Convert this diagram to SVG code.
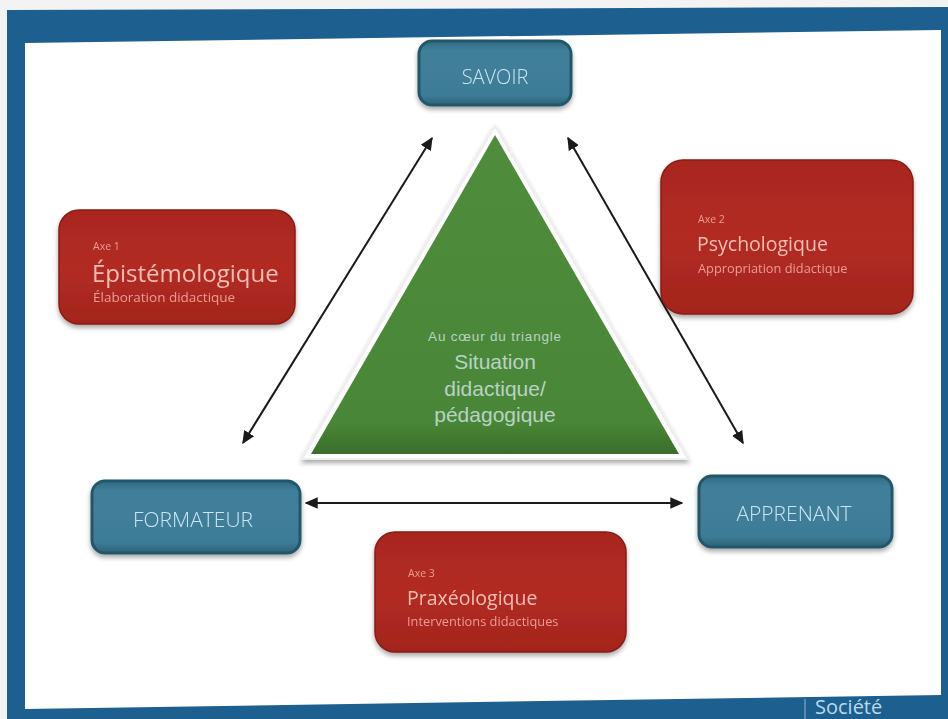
<svg xmlns="http://www.w3.org/2000/svg" width="948" height="719" viewBox="0 0 948 719">
  <defs>
    <style>
      .frame { fill: #1d5f8f; }
      .paper { fill: #ffffff; }
      .node-box { fill: url(#tealGrad); stroke: #24576a; stroke-width: 3; }
      .node-txt { font-family: "Open Sans", "Liberation Sans", sans-serif; font-weight: 300; fill: #c9e6f4; text-anchor: middle; }
      .axe-box { fill: url(#redGrad); stroke: #8a1c16; stroke-width: 1.5; }
      .axe-small { font-family: "Open Sans", "Liberation Sans", sans-serif; font-size: 10.5px; fill: #ee9c92; }
      .axe-title { font-family: "Open Sans", "Liberation Sans", sans-serif; fill: #f6bdb5; }
      .axe-sub { font-family: "Open Sans", "Liberation Sans", sans-serif; fill: #ee9c92; }
      .tri-txt { font-family: "Liberation Sans", "Open Sans", sans-serif; fill: #b8d3c6; text-anchor: middle; }
      .link { stroke: #1a1a1a; stroke-width: 2; fill: none; marker-start: url(#head); marker-end: url(#head); }
    </style>
    <linearGradient id="tealGrad" x1="0" y1="0" x2="0" y2="1">
      <stop offset="0" stop-color="#2f6b82"/>
      <stop offset="0.15" stop-color="#417f9a"/>
      <stop offset="0.85" stop-color="#3e7c97"/>
      <stop offset="1" stop-color="#2b6278"/>
    </linearGradient>
    <linearGradient id="redGrad" x1="0" y1="0" x2="0" y2="1">
      <stop offset="0" stop-color="#a9261f"/>
      <stop offset="0.5" stop-color="#b22c23"/>
      <stop offset="1" stop-color="#a3241d"/>
    </linearGradient>
    <linearGradient id="greenGrad" x1="0" y1="0" x2="0" y2="1">
      <stop offset="0" stop-color="#4f8c3c"/>
      <stop offset="0.9" stop-color="#4a8637"/>
      <stop offset="1" stop-color="#3a6e2b"/>
    </linearGradient>
    <filter id="shadow" x="-10%" y="-10%" width="120%" height="125%">
      <feGaussianBlur in="SourceAlpha" stdDeviation="2.5"/>
      <feOffset dx="0" dy="3" result="b"/>
      <feComponentTransfer><feFuncA type="linear" slope="0.35"/></feComponentTransfer>
      <feMerge><feMergeNode/><feMergeNode in="SourceGraphic"/></feMerge>
    </filter>
    <marker id="head" viewBox="0 0 10 10" refX="9" refY="5" markerWidth="13" markerHeight="13" markerUnits="userSpaceOnUse" orient="auto-start-reverse">
      <path d="M0,0.5 L10,5 L0,9.5 z" fill="#1a1a1a"/>
    </marker>
  </defs>

  <!-- page and blue frame -->
  <rect x="0" y="0" width="948" height="719" fill="#f3f3f3"/>
  <polygon class="frame" points="7,10 948,7 948,719 7,719"/>
  <polygon class="paper" points="25,43 941,30 941,695 25,709"/>
  <line x1="805" y1="699" x2="805" y2="719" stroke="#6f96b8" stroke-width="1.5"/>
  <text x="815" y="714" font-family="Open Sans, Liberation Sans, sans-serif" font-size="20" fill="#bcd9ee">Société</text>

  <!-- connectors -->
  <g id="connectors">
    <line class="link" x1="243" y1="443" x2="432" y2="138"/>
    <line class="link" x1="743" y1="443" x2="568" y2="138"/>
    <line class="link" x1="306" y1="503" x2="682" y2="503"/>
  </g>

  <!-- central triangle -->
  <g id="triangle">
    <polygon points="495,126 302,459 688,459" fill="#ffffff" stroke="#eeeeee" stroke-width="2" filter="url(#shadow)"/>
    <polygon points="495,135 311,454 679,454" fill="url(#greenGrad)"/>
    <text class="tri-txt" x="495" y="341" font-size="13.5" letter-spacing="0.8">Au cœur du triangle</text>
    <text class="tri-txt" x="495" y="369" font-size="21">Situation</text>
    <text class="tri-txt" x="495" y="396" font-size="21">didactique/</text>
    <text class="tri-txt" x="495" y="422" font-size="21">pédagogique</text>
  </g>

  <!-- poles -->
  <g id="savoir" filter="url(#shadow)">
    <rect class="node-box" x="419" y="41" width="152" height="64" rx="13"/>
    <text class="node-txt" x="495" y="84" font-size="20">SAVOIR</text>
  </g>
  <g id="formateur" filter="url(#shadow)">
    <rect class="node-box" x="92" y="481" width="208" height="72" rx="13"/>
    <text class="node-txt" x="193" y="527" font-size="21">FORMATEUR</text>
  </g>
  <g id="apprenant" filter="url(#shadow)">
    <rect class="node-box" x="699" y="476" width="193" height="71" rx="13"/>
    <text class="node-txt" x="794" y="521" font-size="21">APPRENANT</text>
  </g>

  <!-- axes -->
  <g id="axe1" filter="url(#shadow)">
    <rect class="axe-box" x="59" y="210" width="236" height="114" rx="20"/>
    <text class="axe-small" x="93" y="250">Axe 1</text>
    <text class="axe-title" x="92" y="282" font-size="24">Épistémologique</text>
    <text class="axe-sub" x="93" y="302" font-size="13.5">Élaboration didactique</text>
  </g>
  <g id="axe2" filter="url(#shadow)">
    <rect class="axe-box" x="661" y="160" width="252" height="154" rx="22"/>
    <text class="axe-small" x="698" y="223">Axe 2</text>
    <text class="axe-title" x="697" y="251" font-size="19.5">Psychologique</text>
    <text class="axe-sub" x="698" y="273" font-size="12.8">Appropriation didactique</text>
  </g>
  <g id="axe3" filter="url(#shadow)">
    <rect class="axe-box" x="375" y="532" width="251" height="120" rx="20"/>
    <text class="axe-small" x="408" y="577">Axe 3</text>
    <text class="axe-title" x="407" y="605" font-size="19.5">Praxéologique</text>
    <text class="axe-sub" x="407" y="626" font-size="12.8">Interventions didactiques</text>
  </g>
</svg>
